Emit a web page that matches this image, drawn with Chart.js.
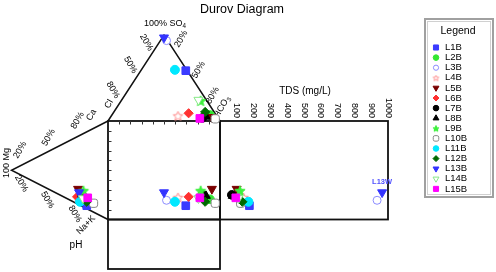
<!DOCTYPE html>
<html><head><meta charset="utf-8">
<script src="https://cdn.jsdelivr.net/npm/chart.js@4/dist/chart.umd.min.js"></script>
<style>html,body{margin:0;padding:0;background:#fff}#wrap{width:496px;height:272px;position:relative}</style>
</head><body><div id="wrap"><canvas id="c"></canvas></div>
<script>
// ---- data ----
const samples = ['L1B','L2B','L3B','L4B','L5B','L6B','L7B','L8B','L9B','L10B','L11B','L12B','L13B','L14B','L15B'];
// cations, % meq
const ca  = [3, 8.5, 5, 7, 15.5, 7, 11.5, 10.5, 16.5, 9, 3.5, 7, 12.5, 8.5, 11.5];
const mg  = [22, 24, 29, 31, 31, 32, 27, 27, 25.5, 15, 29, 22, 30, 26, 21];
const nak = [75, 67.5, 66, 62, 53.5, 61, 61.5, 62.5, 58, 76, 67.5, 71, 57.5, 65.5, 67.5];
// anions, % meq
const hco3 = [40.2, 87.6, 5.5, 59.5, 90.5, 67.5, 82.5, 85, 71, 94.5, 30, 81.5, 1.5, 68.5, 80.5];
const so4  = [58.5, 7, 93.5, 6, 4.5, 9, 3.5, 5, 23.5, 2.5, 59.5, 10.5, 97, 24.5, 3];
const cl   = [1.3, 5.4, 1, 34.5, 5, 23.5, 14, 10, 5.5, 3, 10.5, 8, 1.5, 7, 16.5];
// total dissolved solids, mg/L
const tds  = [175, 128, 935, 140, 99, 85, 70, 75, 119, 123, 169, 133, 965, 110, 94];
const tdsTicks = [100, 200, 300, 400, 500, 600, 700, 800, 900, 1000];
const pctTicks = ['20%', '50%', '80%'];
const annotationLabel = 'L13W';
const annotationSample = 'L13B';

// ---- layout ----
const G = {x0:108, x1:220, y0:121, y1:219.5, apexY:35, leftApexX:11.5, tdsX1:388, phY1:269, tdsMax:1000};
function anionU(i){const t=hco3[i]+so4[i]+cl[i];return (hco3[i]+so4[i]/2)/t;}
function anionS(i){const t=hco3[i]+so4[i]+cl[i];return so4[i]/t;}
function cationV(i){const t=ca[i]+mg[i]+nak[i];return (nak[i]+mg[i]/2)/t;}
function cationM(i){const t=ca[i]+mg[i]+nak[i];return mg[i]/t;}
function px(u){return G.x0+(G.x1-G.x0)*u;}
function pyV(v){return G.y0+(G.y1-G.y0)*v;}
function tdsX(t){return G.x1+(G.tdsX1-G.x1)*t/G.tdsMax;}

function starCanvas(r, fill, stroke){
  const s=Math.ceil(2*r+3), c=document.createElement('canvas'); c.width=c.height=s;
  const g=c.getContext('2d'); g.beginPath();
  for(let k=0;k<10;k++){const a=-Math.PI/2+k*Math.PI/5, rr=k%2?r*0.45:r;
    const X=s/2+rr*Math.cos(a), Y=s/2+rr*Math.sin(a)+0.5; k?g.lineTo(X,Y):g.moveTo(X,Y);}
  g.closePath(); g.fillStyle=fill; g.fill(); g.strokeStyle=stroke; g.lineWidth=1; g.stroke(); return c;
}
const W='#ffffff';
// style per sample: [pointStyle, rotation, fill, stroke, radius, legendRadius]
const styles = [
  ['rect',0,'#3b3bff','#3b3bff',5.4,3.6],
  ['circle',0,'#33e633','#33e633',4.3,2.8],
  ['circle',0,W,'#8c8cff',4,2.6],
  [starCanvas(5,W,'#ff8c8c'),0,W,'#ff8c8c',5,3],
  ['triangle',180,'#7a0000','#7a0000',5.2,3.4],
  ['rectRot',0,'#ff3030','#ff3030',4.6,3],
  ['circle',0,'#000000','#000000',4.3,2.8],
  ['triangle',0,'#000000','#000000',5,3.4],
  [starCanvas(5.4,'#3cf03c','#3cf03c'),0,'#3cf03c','#3cf03c',5.4,3],
  ['rectRounded',0,W,'#888888',4.8,3.2],
  ['circle',0,'#00e8ff','#00e8ff',4.5,2.8],
  ['rectRot',0,'#006a00','#006a00',4.6,3],
  ['triangle',180,'#3333ff','#3333ff',5.2,3.4],
  ['triangle',180,W,'#88e888',5.2,3.4],
  ['rect',0,'#ff00ff','#ff00ff',5.4,3.6]
];
const legendStars=[null,null,null,starCanvas(3,W,'#ff8c8c'),null,null,null,null,starCanvas(3.2,'#3cf03c','#3cf03c')];

const datasets = samples.map((name,i)=>{
  const u=anionU(i), s=anionS(i), v=cationV(i), m=cationM(i);
  const st=styles[i];
  return {
    label:name,
    data:[
      {x:px(u), y:G.y0-(G.y0-G.apexY)*s},
      {x:G.x0-(G.x0-G.leftApexX)*m, y:pyV(v)},
      {x:px(u), y:pyV(v)},
      {x:tdsX(tds[i]), y:pyV(v)}
    ],
    pointStyle:st[0], rotation:st[1], backgroundColor:st[2], borderColor:st[3],
    pointRadius:st[4], borderWidth:1, showLine:false, clip:false, order:15-i
  };
});

function txt(ctx, s, x, y, ang, font, align, color){
  ctx.save(); ctx.translate(x,y); ctx.rotate(ang*Math.PI/180);
  ctx.font=font; ctx.fillStyle=color||'#000'; ctx.textAlign=align||'center'; ctx.textBaseline='middle';
  ctx.fillText(s,0,0); ctx.restore();
}
function txtSub(ctx, s, sub, x, y, ang, size){
  ctx.save(); ctx.translate(x,y); ctx.rotate(ang*Math.PI/180);
  ctx.font=size+'px "Liberation Sans", Arial, sans-serif';
  const w1=ctx.measureText(s).width; ctx.font=(size*0.7)+'px "Liberation Sans", Arial, sans-serif';
  const w2=ctx.measureText(sub).width; const st=-(w1+w2)/2;
  ctx.fillStyle='#000'; ctx.textBaseline='middle'; ctx.textAlign='left';
  ctx.font=size+'px "Liberation Sans", Arial, sans-serif'; ctx.fillText(s,st,0);
  ctx.font=(size*0.7)+'px "Liberation Sans", Arial, sans-serif'; ctx.fillText(sub,st+w1,size*0.3);
  ctx.restore();
}

const F='"Liberation Sans", Arial, sans-serif';
const framePlugin = {
  id:'durovFrame',
  beforeDatasetsDraw(chart){
    const ctx=chart.ctx, X=v=>chart.scales.x.getPixelForValue(v), Y=v=>chart.scales.y.getPixelForValue(v);
    ctx.save();
    ctx.strokeStyle='#111'; ctx.lineWidth=1.8; ctx.lineJoin='miter';
    ctx.strokeRect(X(G.x0),Y(G.y0),X(G.x1)-X(G.x0),Y(G.y1)-Y(G.y0));
    ctx.strokeRect(X(G.x1),Y(G.y0),X(G.tdsX1)-X(G.x1),Y(G.y1)-Y(G.y0));
    ctx.strokeRect(X(G.x0),Y(G.y1),X(G.x1)-X(G.x0),Y(G.phY1)-Y(G.y1));
    ctx.lineWidth=1.5;
    ctx.beginPath(); ctx.moveTo(X(G.x0),Y(G.y0)); ctx.lineTo(X((G.x0+G.x1)/2),Y(G.apexY)); ctx.lineTo(X(G.x1),Y(G.y0)); ctx.stroke();
    ctx.beginPath(); ctx.moveTo(X(G.x0),Y(G.y0)); ctx.lineTo(X(G.leftApexX),Y((G.y0+G.y1)/2)); ctx.lineTo(X(G.x0),Y(G.y1)); ctx.stroke();
    ctx.lineWidth=1; ctx.strokeStyle='#333';
    for(let k=1;k<10;k++){
      const xx=Math.round(px(k/10))+0.5, yy=Math.round(pyV(k/10))+0.5;
      ctx.beginPath(); ctx.moveTo(X(xx),Y(G.y0)); ctx.lineTo(X(xx),Y(G.y0+3.5)); ctx.stroke();
      ctx.beginPath(); ctx.moveTo(X(G.x0),Y(yy)); ctx.lineTo(X(G.x0+3.5),Y(yy)); ctx.stroke();
    }
    ctx.restore();
    const f9='9px '+F;
    txt(ctx,'Durov Diagram',242,10,0,'12.5px '+F);
    txtSub(ctx,'100% SO','4',165,24,0,9);
    txt(ctx,pctTicks[0],146.5,42.5,60,f9); txt(ctx,pctTicks[1],130.5,65,60,f9); txt(ctx,pctTicks[2],113,90,60,f9);
    txt(ctx,'Cl',109,104,-60,f9);
    txt(ctx,pctTicks[0],181,39,-60,f9); txt(ctx,pctTicks[1],198.5,70,-60,f9); txt(ctx,pctTicks[2],212.5,95.5,-60,f9);
    txtSub(ctx,'HCO','3',222,107,-60,9);
    txt(ctx,'100 Mg',7,163,-90,f9);
    txt(ctx,pctTicks[0],20,150,-60,f9); txt(ctx,pctTicks[1],48.5,137.5,-60,f9); txt(ctx,pctTicks[2],77.5,120.5,-60,f9);
    txt(ctx,'Ca',91.5,115,-60,f9);
    txt(ctx,pctTicks[0],21.5,183.5,60,f9); txt(ctx,pctTicks[1],47.5,200,60,f9); txt(ctx,pctTicks[2],75,214,60,f9);
    txt(ctx,'Na+K',86,225,-45,f9);
    txt(ctx,'pH',76,245,0,'10px '+F);
    txt(ctx,'TDS (mg/L)',305,91,0,'10px '+F);
    tdsTicks.forEach(t=>{ txt(ctx,String(t),X(tdsX(t)),118,90,f9,'right'); });
  },
  afterDatasetsDraw(chart){
    const ctx=chart.ctx, X=v=>chart.scales.x.getPixelForValue(v), Y=v=>chart.scales.y.getPixelForValue(v);
    const ai=samples.indexOf(annotationSample);
    txt(ctx,annotationLabel,X(tdsX(tds[ai])),Y(pyV(cationV(ai)))-10,0,'bold 7.5px '+F,'center','#5050ff');
    ctx.save();
    const bx=425, by=19, bw=68, bh=178;
    ctx.fillStyle='#fff'; ctx.fillRect(bx,by,bw,bh);
    ctx.strokeStyle='#a0a0a0'; ctx.lineWidth=2; ctx.strokeRect(bx,by,bw,bh);
    ctx.strokeStyle='#d0d0d0'; ctx.lineWidth=1; ctx.strokeRect(bx+2.5,by+2.5,bw-5,bh-5);
    txt(ctx,'Legend',458,31,0,'10.5px '+F);
    samples.forEach((name,i)=>{
      const y=47.5+i*10.1, st=styles[i];
      ctx.save();
      ctx.fillStyle=st[2]; ctx.strokeStyle=st[3]; ctx.lineWidth=1;
      const ps = legendStars[i] || st[0];
      Chart.helpers.drawPoint(ctx,{pointStyle:ps,rotation:st[1],radius:st[5],borderWidth:1},436,y);
      ctx.restore();
      txt(ctx,name,445,y,0,'9.5px '+F,'left');
    });
    ctx.restore();
  }
};

new Chart(document.getElementById('c'), {
  type:'scatter',
  data:{datasets},
  options:{
    responsive:true, maintainAspectRatio:false, animation:false, events:[],
    layout:{padding:0, autoPadding:false},
    scales:{
      x:{type:'linear',min:0,max:496,display:false},
      y:{type:'linear',min:0,max:272,reverse:true,display:false}
    },
    plugins:{legend:{display:false},tooltip:{enabled:false},title:{display:false}}
  },
  plugins:[framePlugin]
});
</script></body></html>
